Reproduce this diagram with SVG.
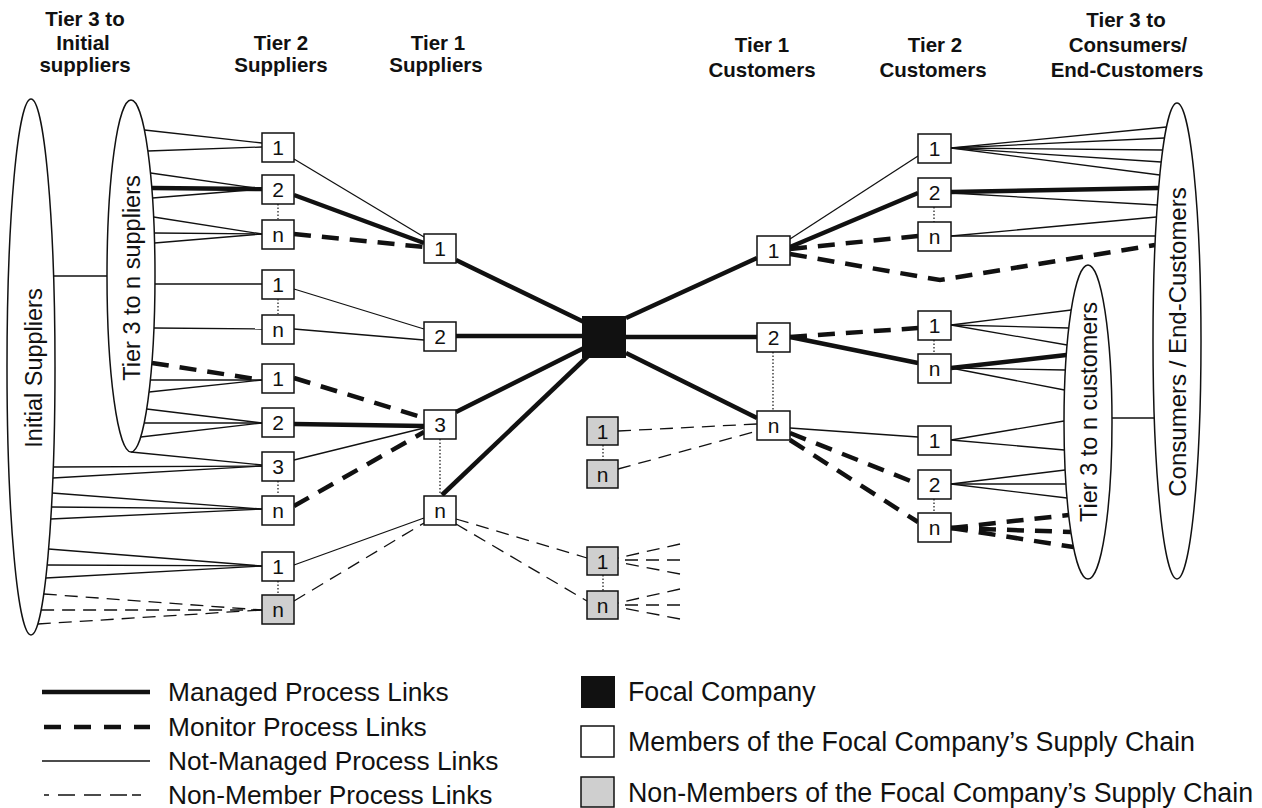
<svg xmlns="http://www.w3.org/2000/svg" width="1262" height="808" viewBox="0 0 1262 808">
<style>
text{font-family:"Liberation Sans",Arial,sans-serif;fill:#111}
.hdr{font-size:20.5px;font-weight:bold;text-anchor:middle}
.lbl{font-size:21px;text-anchor:middle}
.ell{font-size:23.5px;text-anchor:middle}
.leg{font-size:26.3px}
.leg2{font-size:26.8px}
.box{fill:#fff;stroke:#111;stroke-width:1.5}
.gray{fill:#cfcfcf;stroke:#111;stroke-width:1.5}
.oval{fill:#fff;stroke:#111;stroke-width:1.5}
.c{fill:none;stroke:#111}
.managed{stroke-width:4.5}
.monitor{stroke-width:4.5;stroke-dasharray:17 11}
.thin{stroke-width:1.3}
.nonmem{stroke-width:1.3;stroke-dasharray:13 8}
.dot{stroke-width:1.2;stroke-dasharray:1.5 2}
</style>
<rect width="1262" height="808" fill="#fff"/>

<g id="headers">
<text class="hdr" x="85" y="26">Tier 3 to</text>
<text class="hdr" x="83" y="50">Initial</text>
<text class="hdr" x="85" y="72">suppliers</text>
<text class="hdr" x="281" y="50">Tier 2</text>
<text class="hdr" x="281" y="72">Suppliers</text>
<text class="hdr" x="438" y="50">Tier 1</text>
<text class="hdr" x="436" y="72">Suppliers</text>
<text class="hdr" x="762" y="52">Tier 1</text>
<text class="hdr" x="762" y="77">Customers</text>
<text class="hdr" x="935" y="52">Tier 2</text>
<text class="hdr" x="933" y="77">Customers</text>
<text class="hdr" x="1126" y="27">Tier 3 to</text>
<text class="hdr" x="1128" y="52">Consumers/</text>
<text class="hdr" x="1127" y="77">End-Customers</text>
</g>

<g id="connectors">
<line class="c thin" x1="53.6" y1="276" x2="107" y2="276"/>
<line class="c thin" x1="1112" y1="418" x2="1154.3" y2="418"/>
<line class="c thin" x1="144.4" y1="130" x2="262" y2="143"/>
<line class="c thin" x1="147.9" y1="151" x2="262" y2="147"/>
<line class="c thin" x1="150.5" y1="173" x2="262" y2="189"/>
<line class="c managed" x1="151.8" y1="188" x2="262" y2="189"/>
<line class="c thin" x1="152.5" y1="198" x2="262" y2="189"/>
<line class="c thin" x1="153.6" y1="217" x2="262" y2="234"/>
<line class="c thin" x1="154.3" y1="233" x2="262" y2="234"/>
<line class="c thin" x1="154.6" y1="243" x2="262" y2="234"/>
<line class="c thin" x1="155" y1="284" x2="262" y2="284"/>
<line class="c thin" x1="153.9" y1="328" x2="262" y2="329"/>
<line class="c monitor" x1="151.9" y1="363" x2="262" y2="380"/>
<line class="c thin" x1="150.4" y1="380" x2="262" y2="380"/>
<line class="c thin" x1="149.1" y1="392" x2="262" y2="380"/>
<line class="c thin" x1="146.7" y1="409" x2="262" y2="423"/>
<line class="c thin" x1="144.2" y1="423" x2="262" y2="423"/>
<line class="c thin" x1="140.7" y1="437" x2="262" y2="423"/>
<line class="c thin" x1="131" y1="452" x2="262" y2="465"/>
<line class="c thin" x1="53.3" y1="467" x2="262" y2="466"/>
<line class="c thin" x1="52.8" y1="478" x2="262" y2="466"/>
<line class="c thin" x1="52.2" y1="493" x2="262" y2="509"/>
<line class="c thin" x1="51.5" y1="507" x2="262" y2="509"/>
<line class="c thin" x1="50.8" y1="519" x2="262" y2="509"/>
<line class="c thin" x1="48.6" y1="549" x2="262" y2="566"/>
<line class="c thin" x1="47.2" y1="565" x2="262" y2="566"/>
<line class="c thin" x1="45.8" y1="578" x2="262" y2="566"/>
<line class="c nonmem" x1="43.8" y1="594" x2="262" y2="610"/>
<line class="c nonmem" x1="41.1" y1="610" x2="262" y2="610"/>
<line class="c nonmem" x1="37.8" y1="624" x2="262" y2="610"/>
<line class="c thin" x1="294" y1="159" x2="424" y2="237"/>
<line class="c managed" x1="294" y1="195" x2="424" y2="243"/>
<line class="c monitor" x1="294" y1="234" x2="424" y2="247"/>
<line class="c thin" x1="294" y1="289" x2="424" y2="329"/>
<line class="c thin" x1="294" y1="329" x2="424" y2="340"/>
<line class="c monitor" x1="294" y1="378" x2="424" y2="418"/>
<line class="c managed" x1="294" y1="424" x2="424" y2="426"/>
<line class="c thin" x1="294" y1="460" x2="424" y2="428"/>
<line class="c monitor" x1="294" y1="506" x2="424" y2="432"/>
<line class="c thin" x1="294" y1="565" x2="424" y2="518"/>
<line class="c nonmem" x1="294" y1="601" x2="424" y2="523"/>
<line class="c managed" x1="456" y1="260" x2="584" y2="322"/>
<line class="c managed" x1="456" y1="336" x2="584" y2="336"/>
<line class="c managed" x1="456" y1="412" x2="584" y2="348"/>
<line class="c managed" x1="442" y1="495" x2="588" y2="356"/>
<line class="c nonmem" x1="456" y1="519" x2="587" y2="558"/>
<line class="c nonmem" x1="456" y1="524" x2="587" y2="601"/>
<line class="c nonmem" x1="680" y1="544" x2="618" y2="558"/>
<line class="c nonmem" x1="680" y1="560" x2="618" y2="560"/>
<line class="c nonmem" x1="680" y1="574" x2="618" y2="562"/>
<line class="c nonmem" x1="680" y1="589" x2="618" y2="603"/>
<line class="c nonmem" x1="680" y1="605" x2="618" y2="605"/>
<line class="c nonmem" x1="680" y1="619" x2="618" y2="607"/>
<line class="c nonmem" x1="618" y1="431" x2="757" y2="424"/>
<line class="c nonmem" x1="618" y1="469" x2="757" y2="431"/>
<line class="c managed" x1="626" y1="318" x2="757" y2="258"/>
<line class="c managed" x1="626" y1="337" x2="757" y2="337"/>
<line class="c managed" x1="626" y1="353" x2="757" y2="418"/>
<line class="c thin" x1="790" y1="239" x2="918" y2="156"/>
<line class="c managed" x1="790" y1="247" x2="918" y2="193"/>
<line class="c monitor" x1="790" y1="249" x2="918" y2="236"/>
<polyline class="c monitor" points="790,254 940,280 1155,245"/>
<line class="c monitor" x1="790" y1="337" x2="918" y2="328"/>
<line class="c managed" x1="790" y1="337" x2="918" y2="363"/>
<line class="c thin" x1="790" y1="428" x2="918" y2="437"/>
<line class="c monitor" x1="790" y1="433" x2="918" y2="484"/>
<line class="c monitor" x1="790" y1="440" x2="918" y2="522"/>
<line class="c thin" x1="951" y1="148" x2="1166.5" y2="127"/>
<line class="c thin" x1="951" y1="148" x2="1164.5" y2="138"/>
<line class="c thin" x1="951" y1="148" x2="1162.7" y2="150"/>
<line class="c thin" x1="951" y1="148" x2="1161.2" y2="162"/>
<line class="c thin" x1="951" y1="148" x2="1159.8" y2="175"/>
<line class="c managed" x1="951" y1="192" x2="1158.6" y2="188"/>
<line class="c thin" x1="951" y1="193" x2="1157.3" y2="205"/>
<line class="c thin" x1="951" y1="236" x2="1156.5" y2="217"/>
<line class="c thin" x1="951" y1="236" x2="1155.5" y2="236"/>
<line class="c thin" x1="951" y1="325" x2="1071.2" y2="310"/>
<line class="c thin" x1="951" y1="325" x2="1068.8" y2="328"/>
<line class="c thin" x1="951" y1="325" x2="1067.1" y2="345"/>
<line class="c managed" x1="951" y1="368" x2="1066.3" y2="355"/>
<line class="c thin" x1="951" y1="368" x2="1065.4" y2="370"/>
<line class="c thin" x1="951" y1="368" x2="1064.5" y2="390"/>
<line class="c thin" x1="951" y1="440" x2="1064" y2="421"/>
<line class="c thin" x1="951" y1="440" x2="1064.4" y2="450"/>
<line class="c thin" x1="951" y1="484" x2="1065.1" y2="470"/>
<line class="c thin" x1="951" y1="484" x2="1066" y2="484"/>
<line class="c thin" x1="951" y1="484" x2="1067" y2="498"/>
<line class="c monitor" x1="951" y1="528" x2="1068.7" y2="515"/>
<line class="c monitor" x1="951" y1="528" x2="1070.9" y2="532"/>
<line class="c monitor" x1="951" y1="528" x2="1073.5" y2="547"/>
<line class="c dot" x1="278" y1="204" x2="278" y2="219"/>
<line class="c dot" x1="278" y1="299" x2="278" y2="314"/>
<line class="c dot" x1="278" y1="481" x2="278" y2="495"/>
<line class="c dot" x1="278" y1="581" x2="278" y2="594"/>
<line class="c dot" x1="440" y1="439" x2="440" y2="495"/>
<line class="c dot" x1="603" y1="445" x2="603" y2="460"/>
<line class="c dot" x1="603" y1="575" x2="603" y2="591"/>
<line class="c dot" x1="773" y1="352" x2="773" y2="411"/>
<line class="c dot" x1="934" y1="207" x2="934" y2="222"/>
<line class="c dot" x1="934" y1="340" x2="934" y2="354"/>
<line class="c dot" x1="934" y1="499" x2="934" y2="513"/>
</g>

<g id="initial-suppliers">
<ellipse class="oval" cx="31" cy="367" rx="24" ry="268"/>
<text class="ell" transform="translate(42,368) rotate(-90)">Initial Suppliers</text>
</g>
<g id="tier3-suppliers">
<ellipse class="oval" cx="131" cy="276" rx="24" ry="176"/>
<text class="ell" transform="translate(140,278) rotate(-90)">Tier 3 to n suppliers</text>
</g>
<g id="consumers">
<ellipse class="oval" cx="1177" cy="341" rx="24" ry="238"/>
<text class="ell" style="font-size:24px" transform="translate(1186,342) rotate(-90)">Consumers / End-Customers</text>
</g>
<g id="tier3-customers">
<ellipse class="oval" cx="1088" cy="422" rx="24" ry="157"/>
<text class="ell" transform="translate(1097,412) rotate(-90)">Tier 3 to n customers</text>
</g>

<g id="s2-1"><rect class="box" x="262" y="133" width="32" height="29"/><text class="lbl" x="278" y="155">1</text></g>
<g id="s2-2"><rect class="box" x="262" y="175" width="32" height="29"/><text class="lbl" x="278" y="197">2</text></g>
<g id="s2-n"><rect class="box" x="262" y="220" width="32" height="29"/><text class="lbl" x="278" y="242">n</text></g>
<g id="s2-1b"><rect class="box" x="262" y="270" width="32" height="29"/><text class="lbl" x="278" y="292">1</text></g>
<g id="s2-nb"><rect class="box" x="262" y="315" width="32" height="29"/><text class="lbl" x="278" y="337">n</text></g>
<g id="s2-1c"><rect class="box" x="262" y="364" width="32" height="29"/><text class="lbl" x="278" y="386">1</text></g>
<g id="s2-2c"><rect class="box" x="262" y="408" width="32" height="29"/><text class="lbl" x="278" y="430">2</text></g>
<g id="s2-3c"><rect class="box" x="262" y="452" width="32" height="29"/><text class="lbl" x="278" y="474">3</text></g>
<g id="s2-nc"><rect class="box" x="262" y="496" width="32" height="29"/><text class="lbl" x="278" y="518">n</text></g>
<g id="s2-1d"><rect class="box" x="262" y="552" width="32" height="29"/><text class="lbl" x="278" y="574">1</text></g>
<g id="s2-nd"><rect class="gray" x="262" y="595" width="32" height="29"/><text class="lbl" x="278" y="617">n</text></g>

<g id="s1-1"><rect class="box" x="424" y="234" width="32" height="29"/><text class="lbl" x="440" y="256">1</text></g>
<g id="s1-2"><rect class="box" x="424" y="322" width="32" height="29"/><text class="lbl" x="440" y="344">2</text></g>
<g id="s1-3"><rect class="box" x="424" y="410" width="32" height="29"/><text class="lbl" x="440" y="432">3</text></g>
<g id="s1-n"><rect class="box" x="424" y="496" width="32" height="29"/><text class="lbl" x="440" y="518">n</text></g>

<g id="focal"><rect x="582" y="316" width="44" height="42" fill="#111"/></g>

<g id="nm-1a"><rect class="gray" x="587" y="417" width="31" height="28"/><text class="lbl" x="602.5" y="439">1</text></g>
<g id="nm-na"><rect class="gray" x="587" y="460" width="31" height="28"/><text class="lbl" x="602.5" y="482">n</text></g>
<g id="nm-1b"><rect class="gray" x="587" y="547" width="31" height="28"/><text class="lbl" x="602.5" y="569">1</text></g>
<g id="nm-nb"><rect class="gray" x="587" y="591" width="31" height="28"/><text class="lbl" x="602.5" y="613">n</text></g>

<g id="c1-1"><rect class="box" x="757" y="236" width="33" height="29"/><text class="lbl" x="773.5" y="258">1</text></g>
<g id="c1-2"><rect class="box" x="757" y="323" width="33" height="29"/><text class="lbl" x="773.5" y="345">2</text></g>
<g id="c1-n"><rect class="box" x="757" y="411" width="33" height="29"/><text class="lbl" x="773.5" y="433">n</text></g>

<g id="c2-1"><rect class="box" x="918" y="134" width="33" height="29"/><text class="lbl" x="934.5" y="156">1</text></g>
<g id="c2-2"><rect class="box" x="918" y="178" width="33" height="29"/><text class="lbl" x="934.5" y="200">2</text></g>
<g id="c2-n"><rect class="box" x="918" y="222" width="33" height="29"/><text class="lbl" x="934.5" y="244">n</text></g>
<g id="c2-1b"><rect class="box" x="918" y="311" width="33" height="29"/><text class="lbl" x="934.5" y="333">1</text></g>
<g id="c2-nb"><rect class="box" x="918" y="354" width="33" height="29"/><text class="lbl" x="934.5" y="376">n</text></g>
<g id="c2-1c"><rect class="box" x="918" y="426" width="33" height="29"/><text class="lbl" x="934.5" y="448">1</text></g>
<g id="c2-2c"><rect class="box" x="918" y="470" width="33" height="29"/><text class="lbl" x="934.5" y="492">2</text></g>
<g id="c2-nc"><rect class="box" x="918" y="513" width="33" height="29"/><text class="lbl" x="934.5" y="535">n</text></g>

<g id="legend">
<line class="c managed" x1="42" y1="692" x2="150" y2="692"/>
<line class="c monitor" x1="44" y1="727" x2="150" y2="727" style="stroke-dasharray:17 13"/>
<line class="c thin" x1="42" y1="761" x2="150" y2="761"/>
<line class="c nonmem" x1="44" y1="795" x2="150" y2="795" style="stroke-dasharray:5 9 17 9 17 9 17"/>
<text class="leg" x="168" y="701">Managed Process Links</text>
<text class="leg" x="168" y="736">Monitor Process Links</text>
<text class="leg" x="168" y="770">Not-Managed Process Links</text>
<text class="leg" x="168" y="804">Non-Member Process Links</text>
<rect x="581" y="676" width="34" height="32" fill="#111"/>
<rect class="box" x="581" y="726" width="33" height="31"/>
<rect class="gray" x="581" y="777" width="33" height="30"/>
<text class="leg2" x="628" y="701">Focal Company</text>
<text class="leg2" x="628" y="751">Members of the Focal Company’s Supply Chain</text>
<text class="leg2" x="628" y="802">Non-Members of the Focal Company’s Supply Chain</text>
</g>
</svg>
